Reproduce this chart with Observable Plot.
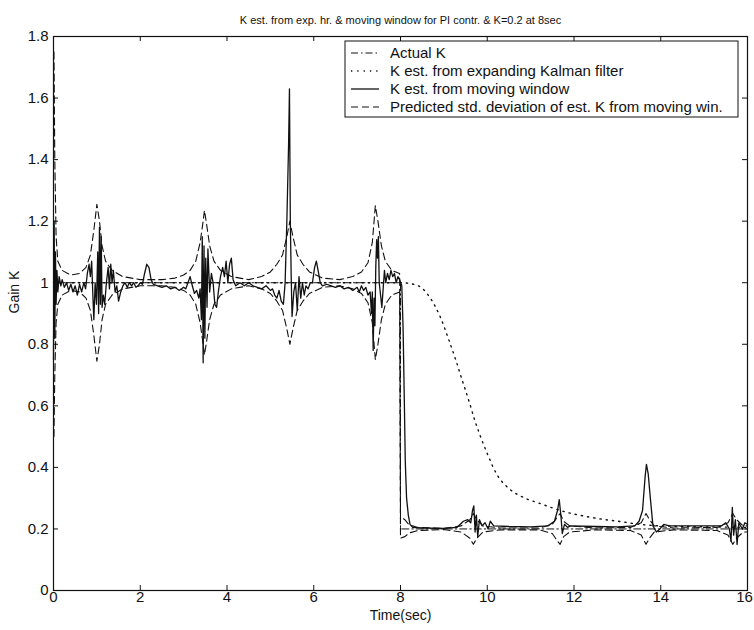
<!DOCTYPE html>
<html>
<head>
<meta charset="utf-8">
<script src="https://cdn.jsdelivr.net/npm/d3@7"></script>
<script src="https://cdn.jsdelivr.net/npm/@observablehq/plot@0.6"></script>
<style>
  html, body { margin: 0; padding: 0; background: #fff; }
  #chart { width: 754px; height: 630px; }
</style>
</head>
<body>
<div id="chart"></div>
<script>
// ---------- data ----------
const titleText = "K est. from exp. hr. & moving window for PI contr. & K=0.2 at 8sec";
const xLabel = "Time(sec)";
const yLabel = "Gain K";
const timeTicks = [0, 2, 4, 6, 8, 10, 12, 14, 16];
const timeTickLabels = ["0", "2", "4", "6", "8", "10", "12", "14", "16"];
const gainTicks = [0, 0.2, 0.4, 0.6, 0.8, 1, 1.2, 1.4, 1.6, 1.8];
const gainTickLabels = ["0", "0.2", "0.4", "0.6", "0.8", "1", "1.2", "1.4", "1.6", "1.8"];
const legendLabels = [
  "Actual K",
  "K est. from expanding Kalman filter",
  "K est. from moving window",
  "Predicted std. deviation of est. K from moving win."
];

// Actual K (dash-dot)
const actualK = [[0, 1], [8, 1], [8, 0.2], [16, 0.2]];

// Expanding Kalman filter estimate (dotted)
const kalmanK = [
  [0, 1.0], [8.0, 1.0], [8.3, 0.995], [8.5, 0.982], [8.71, 0.945], [8.92, 0.888],
  [9.12, 0.812], [9.28, 0.747], [9.43, 0.68], [9.58, 0.615], [9.72, 0.55],
  [9.88, 0.487], [10.0, 0.445], [10.21, 0.38], [10.51, 0.33], [10.84, 0.302],
  [11.23, 0.282], [11.53, 0.267], [11.92, 0.251], [12.3, 0.24], [12.68, 0.231],
  [13.07, 0.224], [13.5, 0.215], [14.0, 0.21], [15.0, 0.207], [16.0, 0.205]
];

// Moving window estimate (solid)
const movingK = [
  [0, 0.75], [0.015, 1.2], [0.03, 0.82], [0.045, 1.1], [0.06, 0.93], [0.08, 1.04],
  [0.1, 0.97], [0.13, 1.02], [0.17, 0.99], [0.2, 1.01], [0.25, 0.985], [0.3, 1.0],
  [0.35, 0.975], [0.4, 0.995], [0.45, 0.97], [0.5, 0.99], [0.55, 0.96], [0.6, 0.995],
  [0.65, 0.97], [0.7, 1.0], [0.74, 0.98], [0.78, 1.03], [0.82, 1.06], [0.85, 1.02],
  [0.88, 1.07], [0.91, 0.95], [0.93, 0.88], [0.96, 1.0], [0.99, 0.93], [1.02, 1.1],
  [1.04, 0.9], [1.06, 1.18], [1.08, 0.93], [1.1, 1.15], [1.12, 0.92], [1.15, 0.96],
  [1.18, 0.93], [1.22, 1.0], [1.26, 1.05], [1.29, 0.98], [1.32, 1.06], [1.35, 1.0],
  [1.38, 1.04], [1.42, 0.97], [1.46, 0.99], [1.5, 0.94], [1.55, 0.97], [1.6, 0.99],
  [1.65, 1.0], [1.7, 0.985], [1.75, 1.0], [1.8, 0.99], [1.85, 1.0], [1.9, 0.985],
  [1.95, 0.99], [2.0, 1.0], [2.05, 0.995], [2.1, 1.03], [2.15, 1.06], [2.2, 1.05],
  [2.25, 1.01], [2.3, 0.995], [2.4, 0.99], [2.5, 0.985], [2.6, 0.99], [2.7, 0.98],
  [2.8, 0.985], [2.9, 0.975], [3.0, 0.985], [3.05, 0.98], [3.1, 1.0], [3.15, 1.02],
  [3.2, 0.99], [3.25, 0.965], [3.3, 0.975], [3.35, 0.95], [3.38, 0.98], [3.41, 0.88],
  [3.43, 1.15], [3.45, 0.74], [3.47, 1.12], [3.49, 0.82], [3.51, 1.08], [3.54, 0.92],
  [3.56, 1.11], [3.6, 0.97], [3.64, 1.03], [3.68, 1.0], [3.72, 0.93], [3.76, 0.92],
  [3.8, 0.97], [3.85, 1.02], [3.9, 1.05], [3.94, 1.02], [3.98, 1.07], [4.02, 1.0],
  [4.06, 1.06], [4.1, 1.08], [4.14, 1.01], [4.2, 0.99], [4.3, 1.0], [4.4, 0.99],
  [4.5, 1.0], [4.6, 0.99], [4.7, 0.985], [4.8, 0.98], [4.9, 0.99], [5.0, 0.975],
  [5.05, 0.98], [5.1, 0.96], [5.15, 0.95], [5.2, 0.975], [5.25, 0.94], [5.3, 0.93],
  [5.34, 1.0], [5.38, 1.2], [5.42, 1.45], [5.44, 1.63], [5.46, 1.2], [5.48, 1.02],
  [5.5, 0.89], [5.54, 0.97], [5.58, 1.0], [5.62, 0.91], [5.66, 1.02], [5.7, 0.95],
  [5.74, 1.0], [5.78, 0.96], [5.82, 0.99], [5.87, 0.98], [5.92, 1.0], [5.97, 1.0],
  [6.02, 1.05], [6.06, 1.07], [6.1, 1.04], [6.15, 1.0], [6.2, 0.99], [6.3, 0.995],
  [6.4, 0.99], [6.5, 0.985], [6.6, 0.99], [6.7, 0.98], [6.8, 0.985], [6.9, 0.975],
  [7.0, 0.985], [7.05, 0.97], [7.1, 0.99], [7.15, 0.975], [7.2, 0.985], [7.25, 0.96],
  [7.3, 0.97], [7.33, 0.9], [7.35, 0.97], [7.37, 0.78], [7.39, 0.95], [7.41, 0.86],
  [7.43, 1.05], [7.45, 1.14], [7.47, 1.08], [7.49, 1.15], [7.51, 1.0], [7.54, 0.96],
  [7.57, 0.92], [7.6, 0.98], [7.63, 1.04], [7.66, 1.0], [7.7, 1.03], [7.74, 1.01],
  [7.78, 1.04], [7.82, 1.02], [7.86, 1.03], [7.9, 1.0], [7.94, 1.02], [7.98, 1.01],
  [8.03, 0.99], [8.06, 0.85], [8.09, 0.6], [8.11, 0.42], [8.14, 0.3], [8.18, 0.245],
  [8.22, 0.215], [8.28, 0.205], [8.5, 0.203], [9.0, 0.202], [9.3, 0.205], [9.45, 0.225],
  [9.55, 0.23], [9.62, 0.22], [9.66, 0.26], [9.69, 0.275], [9.72, 0.19], [9.75, 0.245],
  [9.78, 0.175], [9.82, 0.23], [9.88, 0.21], [9.95, 0.22], [10.02, 0.2], [10.07, 0.225],
  [10.15, 0.21], [10.5, 0.208], [11.0, 0.207], [11.4, 0.21], [11.55, 0.225], [11.62, 0.26],
  [11.66, 0.295], [11.7, 0.24], [11.73, 0.185], [11.78, 0.215], [11.85, 0.205], [11.92, 0.21],
  [12.5, 0.208], [13.0, 0.207], [13.4, 0.21], [13.5, 0.225], [13.58, 0.26], [13.64, 0.37],
  [13.67, 0.41], [13.71, 0.38], [13.76, 0.3], [13.82, 0.21], [13.9, 0.19], [13.98, 0.2],
  [14.07, 0.215], [14.2, 0.21], [15.0, 0.21], [15.4, 0.21], [15.5, 0.22], [15.58, 0.2],
  [15.62, 0.16], [15.65, 0.27], [15.68, 0.18], [15.72, 0.23], [15.76, 0.15], [15.8, 0.22],
  [15.88, 0.2], [15.94, 0.22], [16.0, 0.215]
];

// Predicted std. deviation envelope (dashed), upper and lower
const stdUpper = [
  [0.01, 1.75], [0.03, 1.4], [0.06, 1.15], [0.1, 1.07], [0.2, 1.04], [0.4, 1.025],
  [0.6, 1.03], [0.75, 1.05], [0.85, 1.09], [0.93, 1.17], [1.0, 1.255], [1.06, 1.2],
  [1.12, 1.12], [1.2, 1.07], [1.35, 1.04], [1.6, 1.02], [2.0, 1.01], [2.5, 1.01],
  [2.8, 1.015], [3.0, 1.025], [3.15, 1.04], [3.28, 1.07], [3.38, 1.13], [3.45, 1.2],
  [3.48, 1.235], [3.53, 1.19], [3.6, 1.12], [3.7, 1.07], [3.85, 1.04], [4.1, 1.02],
  [4.5, 1.01], [4.8, 1.02], [5.0, 1.035], [5.15, 1.06], [5.28, 1.09], [5.38, 1.15],
  [5.45, 1.2], [5.52, 1.15], [5.62, 1.09], [5.75, 1.06], [5.9, 1.035], [6.2, 1.015],
  [6.6, 1.01], [6.9, 1.02], [7.1, 1.035], [7.25, 1.065], [7.35, 1.13], [7.42, 1.25],
  [7.48, 1.2], [7.56, 1.12], [7.65, 1.07], [7.8, 1.04], [7.98, 1.03], [8.0, 0.24],
  [8.1, 0.23], [8.2, 0.213], [8.4, 0.205], [9.0, 0.202], [9.4, 0.21], [9.6, 0.23],
  [9.68, 0.25], [9.76, 0.23], [9.9, 0.21], [10.3, 0.203], [11.2, 0.203], [11.5, 0.215],
  [11.62, 0.24], [11.68, 0.25], [11.76, 0.225], [11.9, 0.21], [12.5, 0.203], [13.3, 0.205],
  [13.55, 0.22], [13.66, 0.25], [13.74, 0.23], [13.85, 0.21], [14.3, 0.203], [15.3, 0.205],
  [15.55, 0.22], [15.66, 0.25], [15.75, 0.23], [15.9, 0.21], [16.0, 0.21]
];
const stdLower = [
  [0.01, 0.5], [0.03, 0.7], [0.06, 0.87], [0.1, 0.93], [0.2, 0.96], [0.4, 0.975],
  [0.6, 0.97], [0.75, 0.95], [0.85, 0.91], [0.93, 0.83], [1.0, 0.745], [1.06, 0.8],
  [1.12, 0.88], [1.2, 0.93], [1.35, 0.96], [1.6, 0.98], [2.0, 0.99], [2.5, 0.99],
  [2.8, 0.985], [3.0, 0.975], [3.15, 0.96], [3.28, 0.93], [3.38, 0.87], [3.45, 0.8],
  [3.48, 0.765], [3.53, 0.81], [3.6, 0.88], [3.7, 0.93], [3.85, 0.96], [4.1, 0.98],
  [4.5, 0.99], [4.8, 0.98], [5.0, 0.965], [5.15, 0.94], [5.28, 0.91], [5.38, 0.85],
  [5.45, 0.8], [5.52, 0.85], [5.62, 0.91], [5.75, 0.94], [5.9, 0.965], [6.2, 0.985],
  [6.6, 0.99], [6.9, 0.98], [7.1, 0.965], [7.25, 0.935], [7.35, 0.87], [7.42, 0.75],
  [7.48, 0.8], [7.56, 0.88], [7.65, 0.93], [7.8, 0.96], [7.98, 0.97], [8.0, 0.17],
  [8.1, 0.175], [8.2, 0.187], [8.4, 0.195], [9.0, 0.198], [9.4, 0.19], [9.6, 0.17],
  [9.68, 0.15], [9.76, 0.17], [9.9, 0.19], [10.3, 0.197], [11.2, 0.197], [11.5, 0.185],
  [11.62, 0.16], [11.68, 0.15], [11.76, 0.175], [11.9, 0.19], [12.5, 0.197], [13.3, 0.195],
  [13.55, 0.18], [13.66, 0.15], [13.74, 0.17], [13.85, 0.19], [14.3, 0.197], [15.3, 0.195],
  [15.55, 0.18], [15.66, 0.15], [15.75, 0.17], [15.9, 0.19], [16.0, 0.19]
];

// ---------- styles ----------
const ink = "#111";
const dashDot = "7,3,1.5,3";
const dotted = "1.3,5";
const dashed = "7,4";

const W = 754, H = 630;
const mL = 53, mR = 7, mT = 36, mB = 40;
const innerW = W - mL - mR, innerH = H - mT - mB;
const tickLen = 5;
const px = d => d[0], py = d => d[1];
const xFmt = d => timeTickLabels[timeTicks.indexOf(d)];
const lastTick = timeTicks[timeTicks.length - 1];

const chart = Plot.plot({
  width: W,
  height: H,
  marginLeft: mL,
  marginRight: mR,
  marginTop: mT,
  marginBottom: mB,
  x: {domain: [0, 16]},
  y: {domain: [0, 1.8]},
  style: {fontFamily: "'Liberation Sans', Arial, Helvetica, sans-serif", fontSize: "15px", background: "#fff", color: ink},
  marks: [
    Plot.line(stdUpper, {x: px, y: py, stroke: ink, strokeWidth: 1.1, strokeDasharray: dashed}),
    Plot.line(stdLower, {x: px, y: py, stroke: ink, strokeWidth: 1.1, strokeDasharray: dashed}),
    Plot.line(kalmanK, {x: px, y: py, stroke: ink, strokeWidth: 1.4, strokeDasharray: dotted, curve: "monotone-x"}),
    Plot.line(actualK, {x: px, y: py, stroke: ink, strokeWidth: 1, strokeDasharray: dashDot}),
    Plot.line(movingK, {x: px, y: py, stroke: ink, strokeWidth: 1.3}),
    Plot.frame({stroke: ink, strokeWidth: 1.2}),
    // inward ticks on all four sides
    Plot.tickX(timeTicks, {x: d => d, stroke: ink, insetTop: innerH - tickLen}),
    Plot.tickX(timeTicks, {x: d => d, stroke: ink, insetBottom: innerH - tickLen}),
    Plot.tickY(gainTicks, {y: d => d, stroke: ink, insetRight: innerW - tickLen}),
    Plot.tickY(gainTicks, {y: d => d, stroke: ink, insetLeft: innerW - tickLen}),
    Plot.axisX(timeTicks.slice(0, -1), {anchor: "bottom", tickSize: 0, tickPadding: 1, label: null,
      tickFormat: xFmt, fontSize: 15}),
    Plot.axisX([lastTick], {anchor: "bottom", tickSize: 0, tickPadding: 1, label: null,
      tickFormat: xFmt, fontSize: 15, dx: -3}),
    Plot.axisY(gainTicks, {anchor: "left", tickSize: 0, tickPadding: 5, label: null,
      tickFormat: d => gainTickLabels[gainTicks.indexOf(d)], fontSize: 15}),
    Plot.text([titleText], {text: d => d, frameAnchor: "top", dy: -20, fontSize: 11, fill: ink}),
    Plot.text([xLabel], {text: d => d, frameAnchor: "bottom", dy: 29, fontSize: 14, fill: ink}),
    Plot.text([yLabel], {text: d => d, frameAnchor: "left", dx: -39, rotate: -90, fontSize: 14, fill: ink})
  ]
});

document.getElementById("chart").appendChild(chart);

// ---------- legend box ----------
const svg = d3.select(chart);
const lg = svg.append("g").attr("class", "legend").attr("text-anchor", "start");
const box = {x0: 345, y0: 41, x1: 738, y1: 117};
lg.append("rect")
  .attr("x", box.x0).attr("y", box.y0)
  .attr("width", box.x1 - box.x0).attr("height", box.y1 - box.y0)
  .attr("fill", "#fff").attr("stroke", ink).attr("stroke-width", 1);
const styles = [
  {dash: dashDot, w: 1},
  {dash: dotted, w: 1.4},
  {dash: null, w: 1.3},
  {dash: dashed, w: 1.1}
];
legendLabels.forEach((label, i) => {
  const y = 53 + i * 18;
  const ln = lg.append("line")
    .attr("x1", 351).attr("x2", 379).attr("y1", y).attr("y2", y)
    .attr("stroke", ink).attr("stroke-width", styles[i].w);
  if (styles[i].dash) ln.attr("stroke-dasharray", styles[i].dash);
  lg.append("text")
    .attr("x", 390).attr("y", y).attr("dy", "0.35em")
    .attr("text-anchor", "start")
    .attr("font-size", 15).attr("fill", ink)
    .text(label);
});
</script>
</body>
</html>
